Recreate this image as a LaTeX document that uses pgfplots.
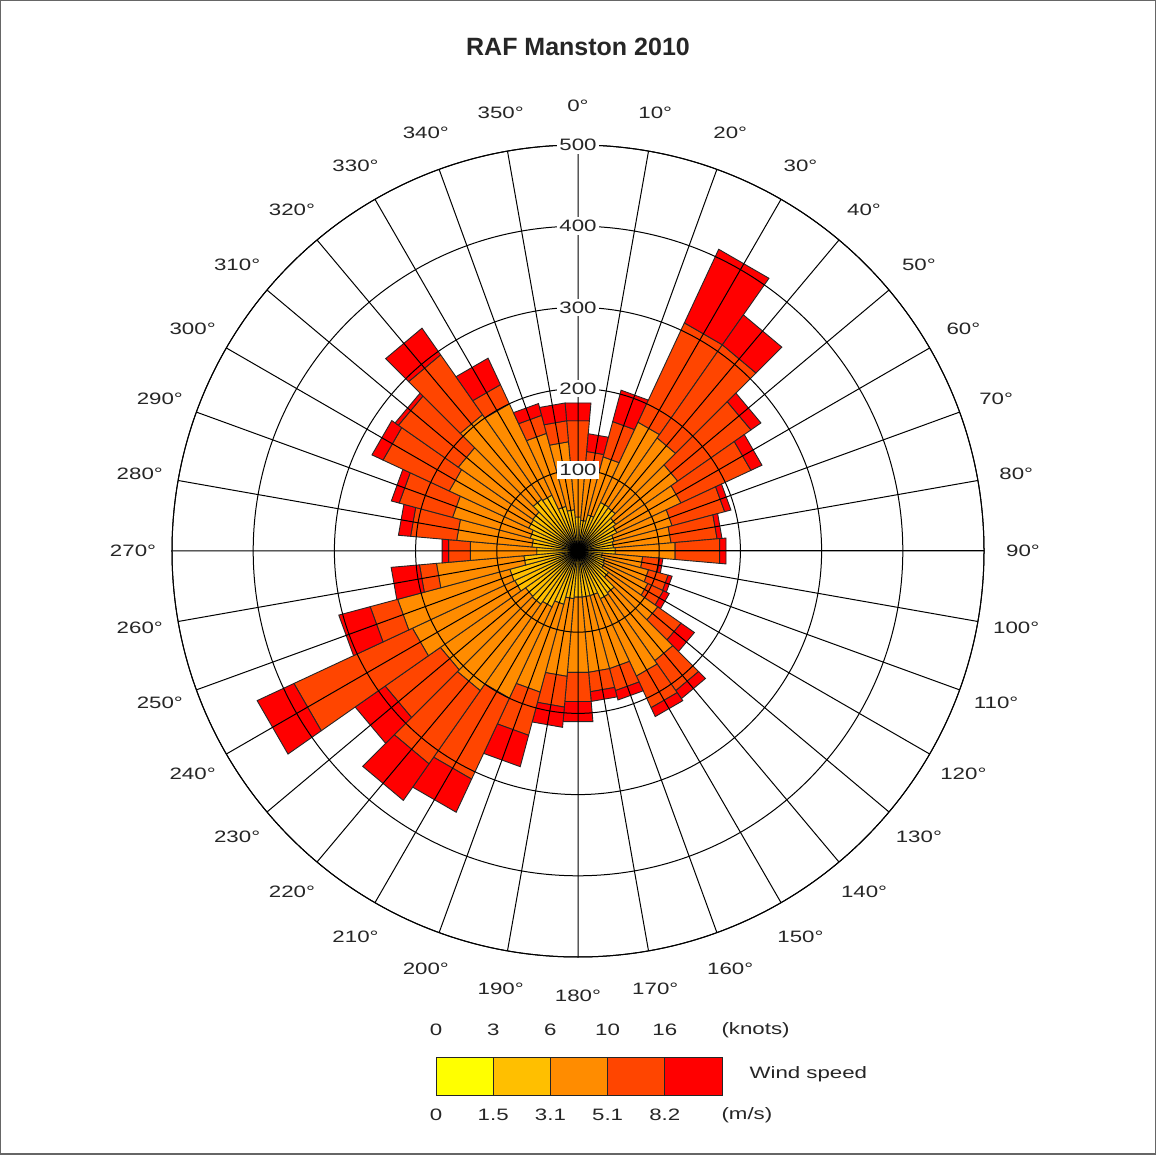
\documentclass[border=0pt]{standalone}
\usepackage{pgfplots}
\pgfplotsset{compat=1.18}
\usepackage{pgfplotstable}
\usepgfplotslibrary{polar}
\usepackage{fontspec}
\setmainfont{Liberation Sans}
\newfontfamily\labfont[FakeStretch=1.35]{Liberation Sans}

\definecolor{wsA}{HTML}{FFFF00}
\definecolor{wsB}{HTML}{FFBF00}
\definecolor{wsC}{HTML}{FF8C00}
\definecolor{wsD}{HTML}{FF4500}
\definecolor{wsE}{HTML}{FF0000}

% counts per direction (compass degrees), one column per speed class
\pgfplotstableread{
dir c1 c2 c3  c4  c5
0   6  36 68  51  22
10  6  32 62  23  22
20  6  40 74  45  40
30  7  59 109 135 100
40  7  58 105 140 45
50  6  51 93  110 15
60  6  47 87  95  15
70  6  40 74  67  8
80  6  38 71  57  6
90  6  40 74  55  8
100 6  24 50  21  4
110 6  28 56  25  5
120 6  30 59  21  8
130 6  40 74  35  20
140 7  56 102 45  12
150 7  58 105 43  12
160 6  51 93  28  12
170 6  51 93  24  12
180 6  51 93  36  25
190 6  53 96  38  25
200 7  61 112 55  40
210 7  69 124 110 45
220 7  73 130 110 55
230 7  72 128 83  45
240 8  78 139 161 50
250 8  79 143 35  40
260 7  60 108 21  35
270 6  45 82  27  8
280 6  51 93  57  15
290 6  55 99  68  10
300 7  60 108 90  15
310 7  61 112 90  5
320 7  71 127 90  40
330 7  69 124 26  36
340 6  51 93  23  15
350 6  45 84  26  22
}\windrose

\begin{document}
\begin{tikzpicture}[x=1bp,y=1bp,
  lab/.style={font=\labfont\fontsize{16.5bp}{18bp}\selectfont, text=black!85}]
\useasboundingbox (0,0) rectangle (1156,1155);
\fill[white] (0,0) rectangle (1156,1155);

\begin{polaraxis}[
  at={(578bp,604bp)}, anchor=center,
  scale only axis, width=812bp, height=812bp,
  xmin=0, xmax=360, ymin=0, ymax=500,
  xtick={0,10,...,350}, ytick={100,200,300,400,500},
  xticklabels={}, yticklabels={},
  major tick length=0pt,
  xmajorgrids, ymajorgrids,
  major grid style={black, line width=1bp},
  axis line style={black, line width=1bp},
  axis on top,
  clip=false,
  wsbar/.style={draw=black!85, line width=0.9bp},
]
\pgfplotsforeachungrouped \i in {0,...,35}{%
  \pgfplotstablegetelem{\i}{dir}\of\windrose \let\wdir\pgfplotsretval
  \pgfplotstablegetelem{\i}{c1}\of\windrose \let\vA\pgfplotsretval
  \pgfplotstablegetelem{\i}{c2}\of\windrose \let\vB\pgfplotsretval
  \pgfplotstablegetelem{\i}{c3}\of\windrose \let\vC\pgfplotsretval
  \pgfplotstablegetelem{\i}{c4}\of\windrose \let\vD\pgfplotsretval
  \pgfplotstablegetelem{\i}{c5}\of\windrose \let\vE\pgfplotsretval
  \pgfmathsetmacro\aL{mod(445-\wdir,360)}%
  \pgfmathsetmacro\aR{mod(455-\wdir,360)}%
  \pgfmathsetmacro\rA{\vA}%
  \pgfmathsetmacro\rB{\rA+\vB}%
  \pgfmathsetmacro\rC{\rB+\vC}%
  \pgfmathsetmacro\rD{\rC+\vD}%
  \pgfmathsetmacro\rE{\rD+\vE}%
  \edef\temp{%
    \noexpand\addplot[wsbar,fill=wsA] coordinates {(\aL,0) (\aL,\rA) (\aR,\rA) (\aR,0) (\aL,0)};
    \noexpand\addplot[wsbar,fill=wsB] coordinates {(\aL,\rA) (\aL,\rB) (\aR,\rB) (\aR,\rA) (\aL,\rA)};
    \noexpand\addplot[wsbar,fill=wsC] coordinates {(\aL,\rB) (\aL,\rC) (\aR,\rC) (\aR,\rB) (\aL,\rB)};
    \noexpand\addplot[wsbar,fill=wsD] coordinates {(\aL,\rC) (\aL,\rD) (\aR,\rD) (\aR,\rC) (\aL,\rC)};
    \noexpand\addplot[wsbar,fill=wsE] coordinates {(\aL,\rD) (\aL,\rE) (\aR,\rE) (\aR,\rD) (\aL,\rD)};
  }%
  \temp
}
\pgfplotsinvokeforeach{0,10,...,350}{\coordinate (t#1) at (axis cs:450-#1,548);}
\pgfplotsinvokeforeach{100,200,...,500}{\coordinate (r#1) at (axis cs:90,#1);}
\end{polaraxis}

\foreach \a in {0,10,...,350} \node[lab] at (t\a) {\a°};
\foreach \r in {100,200,...,500} \node[lab, fill=white, inner xsep=2.5bp, inner ysep=3bp] at (r\r) {\r};

\node[font=\fontsize{25bp}{30bp}\selectfont\bfseries, text=black!85] at (578,1108) {RAF Manston 2010};

% speed key
\foreach \c [count=\k from 0] in {wsA,wsB,wsC,wsD,wsE}
  \filldraw[fill=\c, draw=black!85, line width=0.9bp] ({436+57.2*\k},60) rectangle ({436+57.2*(\k+1)},98);
\foreach \t [count=\k from 0] in {0,3,6,10,16}
  \node[lab] at ({436+57.2*\k},125) {\t};
\foreach \t [count=\k from 0] in {0,1.5,3.1,5.1,8.2}
  \node[lab] at ({436+57.2*\k},40) {\t};
\node[lab, anchor=west] at (718,125) {(knots)};
\node[lab, anchor=west] at (718,40) {(m/s)};
\node[lab, anchor=west] at (746,81) {Wind speed};

\draw[black!60, line width=1.5bp] (0.75,0.75) rectangle (1155.25,1154.25);
\end{tikzpicture}
\end{document}
